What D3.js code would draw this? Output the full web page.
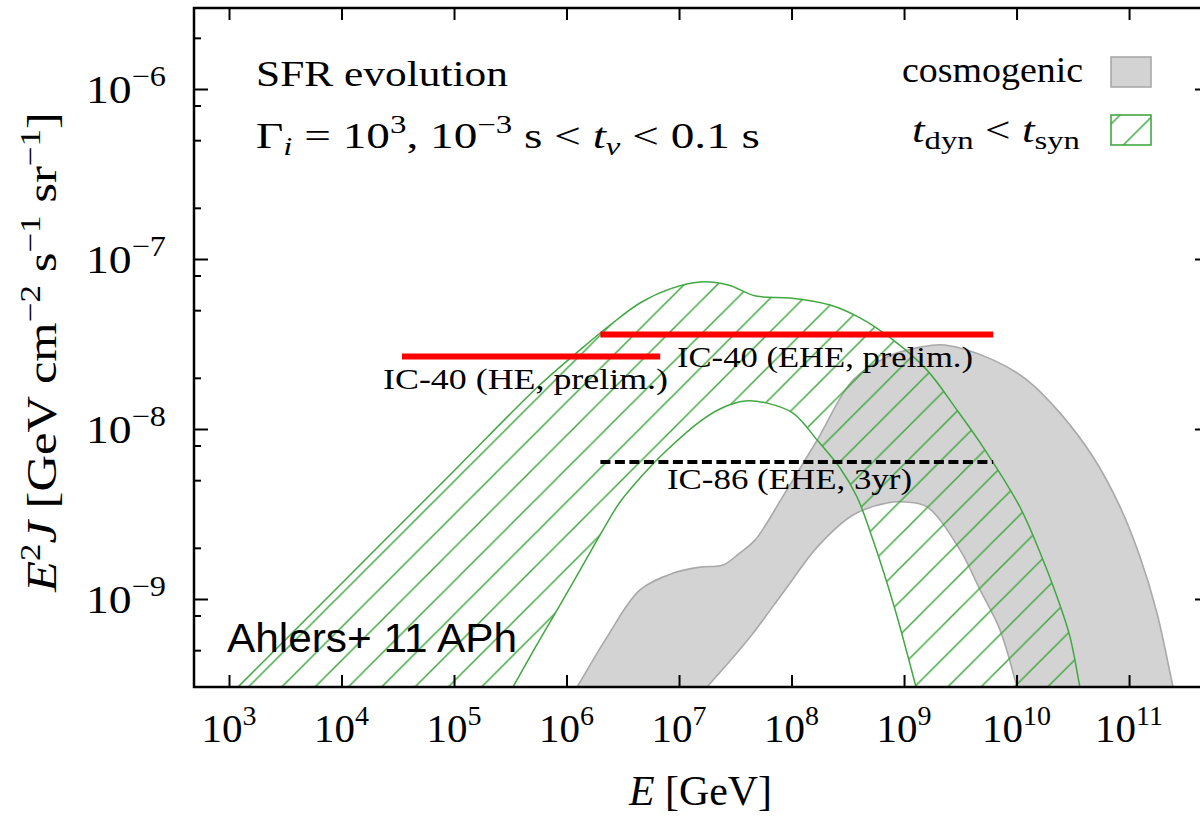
<!DOCTYPE html>
<html><head><meta charset="utf-8">
<script src="https://cdn.jsdelivr.net/npm/d3@7"></script>
<style>body{margin:0;background:#fff}svg{display:block}</style>
</head><body>
<svg id="chart" width="1200" height="817"></svg>
<script>
// ---------- data ----------
const xTicks = [1e3,1e4,1e5,1e6,1e7,1e8,1e9,1e10,1e11];
const yMajorTicks = [1e-9,1e-8,1e-7,1e-6];
const yMinorTicks = [5e-10,8e-10,2e-9,5e-9,8e-9,2e-8,5e-8,8e-8,2e-7,5e-7,8e-7,2e-6];
const xDomain = [488.5, 4.45e11];
const yDomain = [3.036e-10, 2.996e-6];

// t_dyn < t_syn band: upper and lower boundaries
const greenUpperE = [8.32e2,1.20e3,1.07e4,1.06e5,5.81e5,1.32e6,2.44e6,4.50e6,8.32e6,1.54e7,2.73e7,4.83e7,9.70e7,2.20e8,4.06e8,7.98e8,1.60e9,2.96e9,5.04e9,1.07e10,1.62e10,2.29e10,2.99e10,3.66e10,3.98e10];
const greenUpperF = [2.38e-10,3.03e-10,1.29e-9,5.90e-9,1.82e-8,2.92e-8,4.09e-8,5.51e-8,6.67e-8,7.33e-8,7.03e-8,6.05e-8,5.90e-8,5.36e-8,4.50e-8,3.34e-8,2.22e-8,1.29e-8,7.83e-9,3.48e-9,1.87e-9,1.03e-9,5.97e-10,3.03e-10,2.38e-10];
const greenLowerE = [2.73e5,3.34e5,5.25e5,8.24e5,1.32e6,2.11e6,2.99e6,4.50e6,7.82e6,1.54e7,2.41e7,3.86e7,6.05e7,1.03e8,1.69e8,2.70e8,3.82e8,5.30e8,8.49e8,1.28e9,1.42e9];
const greenLowerF = [2.38e-10,3.03e-10,5.15e-10,8.61e-10,1.48e-9,2.55e-9,3.72e-9,5.15e-9,7.52e-9,1.11e-8,1.33e-8,1.46e-8,1.42e-8,1.24e-8,8.61e-9,5.90e-9,3.98e-9,2.22e-9,8.28e-10,3.03e-10,2.38e-10];

// cosmogenic band
const cosmoUpperE = [9.91e5,1.24e6,2.29e6,4.50e6,8.85e6,1.54e7,2.46e7,3.48e7,4.74e7,8.75e7,1.69e8,3.52e8,7.06e8,1.39e9,2.31e9,6.18e9,1.24e10,2.44e10,4.79e10,8.32e10,1.25e11,1.77e11,2.46e11,2.67e11];
const cosmoUpperF = [2.38e-10,3.03e-10,5.97e-10,1.13e-9,1.42e-9,1.54e-9,1.585e-9,1.87e-9,2.22e-9,4.21e-9,8.61e-9,1.94e-8,2.65e-8,3.03e-8,3.12e-8,2.55e-8,1.94e-8,1.24e-8,6.84e-9,3.48e-9,1.77e-9,8.28e-10,3.03e-10,2.38e-10];
const cosmoLowerE = [1.33e7,1.77e7,2.84e7,4.28e7,8.75e7,1.69e8,3.52e8,7.06e8,1.02e9,1.60e9,3.15e9,4.74e9,7.13e9,1.01e10,1.12e10];
const cosmoLowerF = [2.38e-10,3.03e-10,4.32e-10,5.97e-10,1.13e-9,2.02e-9,3.12e-9,3.67e-9,3.72e-9,3.48e-9,1.94e-9,1.13e-9,6.58e-10,3.03e-10,2.38e-10];

// IceCube limits
const limitNames = ["IC-40 (HE, prelim.)","IC-40 (EHE, prelim.)","IC-86 (EHE, 3yr)"];
const limitEmin = [3.45e4, 2.0e6, 2.0e6];
const limitEmax = [6.8e6, 6.2e9, 6.2e9];
const limitFlux = [2.67e-8, 3.6e-8, 6.4e-9];

// ---------- setup ----------
const L=194,R=1202,T=8,B=687;
const GREEN="#40a840", GRAYF="#d3d3d3", GRAYS="#a9a9a9";
const SERIF="'Liberation Serif', 'Times New Roman', serif";
const svg=d3.select("#chart");
const x=d3.scaleLog().domain(xDomain).range([L,R]);
const y=d3.scaleLog().domain(yDomain).range([B,T]);

const defs=svg.append("defs");
defs.append("clipPath").attr("id","clip").append("rect").attr("x",L).attr("y",T).attr("width",R-L).attr("height",B-T);
const s=33.3;
const pat=defs.append("pattern").attr("id","hatch").attr("patternUnits","userSpaceOnUse")
  .attr("width",s).attr("height",s).attr("x",3).attr("y",0);
pat.append("path").attr("d",`M0,${s} L${s},0 M-5,5 L5,-5 M${s-5},${s+5} L${s+5},${s-5}`)
  .attr("stroke",GREEN).attr("stroke-width",1.5).attr("fill","none");

const zip=(E,F)=>E.map((e,i)=>[x(e),y(F[i])]);
const line=d3.line().curve(d3.curveCatmullRom.alpha(0.5));
function bandPath(up,lo){
  const a=line(up)+`L${up[0][0]},${up[up.length-1][1]}Z`;
  const b=line(lo)+`L${lo[0][0]},${lo[lo.length-1][1]}Z`;
  return a+b;
}
const plot=svg.append("g").attr("clip-path","url(#clip)");

// cosmogenic band
const cu=zip(cosmoUpperE,cosmoUpperF), cl=zip(cosmoLowerE,cosmoLowerF);
plot.append("path").attr("d",bandPath(cu,cl)).attr("fill",GRAYF).attr("fill-rule","evenodd").attr("stroke","none");
[cu,cl].forEach(p=>plot.append("path").attr("d",line(p)).attr("fill","none").attr("stroke",GRAYS).attr("stroke-width",1.6));

// green hatched band
const gu=zip(greenUpperE,greenUpperF), gl=zip(greenLowerE,greenLowerF);
plot.append("path").attr("d",bandPath(gu,gl)).attr("fill","url(#hatch)").attr("fill-rule","evenodd").attr("stroke","none");
[gu,gl].forEach(p=>plot.append("path").attr("d",line(p)).attr("fill","none").attr("stroke",GREEN).attr("stroke-width",1.5));

// limits
const limStyle=[{c:"#ff0000",w:6,d:null},{c:"#ff0000",w:6,d:null},{c:"#000",w:4,d:"10,4.5"}];
limitFlux.forEach((f,i)=>{
  const l=plot.append("line").attr("x1",x(limitEmin[i])).attr("x2",x(limitEmax[i]))
    .attr("y1",y(f)).attr("y2",y(f)).attr("stroke",limStyle[i].c).attr("stroke-width",limStyle[i].w);
  if(limStyle[i].d) l.attr("stroke-dasharray",limStyle[i].d);
});

// ---------- text helper ----------
function rich(g,px,py,parts,o){
  const t=g.append("text").attr("x",px).attr("y",py).attr("font-family",o.family||SERIF)
    .attr("font-size",o.size).attr("text-anchor",o.anchor||"start").attr("fill","#000")
    .style("white-space","pre");
  if(o.len) t.attr("textLength",o.len).attr("lengthAdjust","spacingAndGlyphs");
  if(o.transform) t.attr("transform",o.transform);
  let cur=0;
  parts.forEach(p=>{
    const sp=t.append("tspan").text(p.t);
    if(p.it) sp.attr("font-style","italic");
    if(p.fs) sp.attr("font-size",p.fs);
    const target=p.dy||0; const d=target-cur; if(d) sp.attr("dy",d); cur=target;
  });
  return t;
}

// limit labels
const labelPos=[[383,389,285],[677,367,296],[667,489,245]];
limitNames.forEach((n,i)=>rich(svg,labelPos[i][0],labelPos[i][1],[{t:n}],{size:30,len:labelPos[i][2]}));

// ---------- axes ----------
const axes=svg.append("g");
function tickAxis(gen,tx,ty,vals,size){
  const g=axes.append("g").attr("transform",`translate(${tx},${ty})`)
    .call(gen.tickValues(vals).tickSize(size).tickFormat(""));
  g.select(".domain").remove();
  g.selectAll(".tick line").attr("stroke","#000").attr("stroke-width",2);
}
tickAxis(d3.axisTop(x),0,B,xTicks,12);
tickAxis(d3.axisBottom(x),0,T,xTicks,12);
tickAxis(d3.axisRight(y),L,0,yMajorTicks,14);
tickAxis(d3.axisRight(y),L,0,yMinorTicks,7);
tickAxis(d3.axisLeft(y),R,0,yMajorTicks,7);
axes.append("rect").attr("x",L).attr("y",T).attr("width",R-L).attr("height",B-T)
  .attr("fill","none").attr("stroke","#000").attr("stroke-width",2.5);

// tick labels
xTicks.forEach(v=>{
  const e=Math.round(Math.log10(v));
  rich(svg,x(v),742,[{t:"10"},{t:String(e),fs:28,dy:-17}],{size:41,anchor:"middle"});
});
yMajorTicks.forEach(v=>{
  const e=Math.round(Math.log10(v));
  rich(svg,166,y(v)+14,[{t:"10"},{t:"\u2212"+(-e),fs:29,dy:-17}],{size:41,anchor:"end",len:80});
});

// axis titles
rich(svg,629,805,[{t:"E",it:true},{t:" [GeV]"}],{size:42,len:143});
rich(svg,0,0,[{t:"E",it:true},{t:"2",fs:29,dy:-16},{t:"J",it:true},{t:" [GeV cm"},{t:"\u22122",fs:29,dy:-16},{t:" s"},{t:"\u22121",fs:29,dy:-16},{t:" sr"},{t:"\u22121",fs:29,dy:-16},{t:"]"}],
  {size:42,len:480,transform:"translate(56,592) rotate(-90)"});

// annotations
rich(svg,256,86,[{t:"SFR evolution"}],{size:36,len:252});
rich(svg,256,148,[{t:"\u0393"},{t:"i",it:true,fs:25,dy:7},{t:" = 10"},{t:"3",fs:25,dy:-15},{t:", 10"},{t:"\u22123",fs:25,dy:-15},{t:" s < "},{t:"t",it:true},{t:"v",it:true,fs:25,dy:7},{t:" < 0.1 s"}],{size:36,len:504});
rich(svg,227,652,[{t:"Ahlers+ 11 APh"}],{size:41,len:290,family:"'Liberation Sans', Arial, sans-serif"});

// legend
rich(svg,902,82,[{t:"cosmogenic"}],{size:36,len:181});
rich(svg,912,142,[{t:"t",it:true},{t:"dyn",fs:26,dy:7},{t:" < "},{t:"t",it:true},{t:"syn",fs:26,dy:7}],{size:36,len:168});
svg.append("rect").attr("x",1111).attr("y",57).attr("width",40).attr("height",30)
  .attr("fill",GRAYF).attr("stroke",GRAYS).attr("stroke-width",1.6);
svg.append("rect").attr("x",1111).attr("y",115).attr("width",40).attr("height",30)
  .attr("fill","url(#hatch)").attr("stroke",GREEN).attr("stroke-width",1.6);
</script>
</body></html>
